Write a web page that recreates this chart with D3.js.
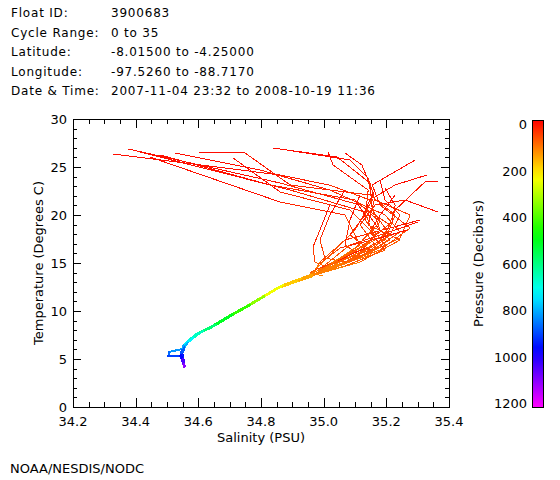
<!DOCTYPE html>
<html><head><meta charset="utf-8">
<script src="https://cdn.jsdelivr.net/npm/d3@7"></script>
<style>
body{margin:0;background:#fff}
svg{display:block}
text{font-family:"DejaVu Sans",sans-serif;fill:#000}
</style>
</head><body>
<script>
// ---------- data ----------
const headerLabels = ["Float ID:", "Cycle Range:", "Latitude:", "Longitude:", "Date & Time:"];
const headerValues = ["3900683", "0 to 35", "-8.01500 to -4.25000", "-97.5260 to -88.7170", "2007-11-04 23:32 to 2008-10-19 11:36"];
const salinityTicks = [34.2, 34.4, 34.6, 34.8, 35.0, 35.2, 35.4];
const salinityTickLabels = ["34.2", "34.4", "34.6", "34.8", "35.0", "35.2", "35.4"];
const temperatureTicks = [0, 5, 10, 15, 20, 25, 30];
const pressureTicks = [0, 200, 400, 600, 800, 1000, 1200];
const footer = "NOAA/NESDIS/NODC";

// upper parts of profiles: [salinity, temperature, pressure]
const upperProfiles = [
  [[34.328,26.35,5],[34.861,24.17,20],[35.02,23.1,35],[35.148,21.56,50],[35.18,18.44,70],[35.116,16.35,90],[35.02,14.79,110],[34.966,13.75,140]],
  [[34.376,26.88,5],[34.861,23.33,25],[35.116,21.04,45],[35.212,18.96,65],[35.148,15.83,90],[34.988,14.06,130]],
  [[34.602,26.56,5],[34.749,26.46,15],[34.893,23.13,30],[35.148,22.08,45],[35.228,20.0,60],[35.196,17.4,80],[35.052,15.1,105],[34.972,13.85,140]],
  [[34.711,25.94,5],[34.861,22.4,25],[35.084,20.52,45],[35.164,17.92,70],[35.1,15.52,95],[34.982,14.06,130]],
  [[34.446,26.04,5],[34.861,21.35,25],[35.068,20.0,45],[35.116,16.88,75],[35.02,14.69,110],[34.969,13.85,140]],
  [[34.526,26.46,5],[34.797,24.69,20],[35.02,22.6,35],[35.196,20.0,55],[35.244,18.23,70],[35.148,16.15,90],[35.004,14.27,125]],
  [[34.838,26.98,5],[35.043,26.04,15],[35.148,23.33,30],[35.155,20.52,45],[35.212,17.92,65],[35.116,15.52,90],[34.995,14.06,130]],
  [[34.861,26.88,5],[35.084,25.73,15],[35.142,23.85,30],[35.164,21.56,45],[35.276,20.0,60],[35.244,17.6,80],[35.084,15.1,105],[34.975,13.96,140]],
  [[35.014,26.56,5],[35.03,25.21,15],[35.142,22.6,30],[35.132,19.48,50],[35.196,16.88,75],[35.052,14.79,105],[34.972,13.85,140]],
  [[35.068,26.46,5],[35.122,25.21,15],[35.142,23.65,25],[35.155,21.56,40],[35.1,18.44,65],[35.02,15.83,95],[34.963,13.96,140]],
  [[35.292,25.73,5],[35.155,23.13,20],[35.18,21.04,35],[35.276,18.65,55],[35.18,16.35,80],[35.02,14.48,115],[34.966,13.75,145]],
  [[35.33,24.17,5],[35.228,23.13,15],[35.164,21.88,30],[35.142,18.96,50],[35.244,17.4,70],[35.116,15.1,95],[34.982,13.85,135]],
  [[35.365,23.44,5],[35.323,23.44,10],[35.228,20.52,35],[35.196,17.92,60],[35.052,15.52,95],[34.972,14.06,135]],
  [[35.365,20.31,5],[35.26,21.56,20],[35.164,21.04,35],[35.116,18.96,50],[35.164,16.88,70],[35.068,15.1,95],[34.979,13.96,135]],
  [[35.308,19.48,5],[35.212,18.65,25],[35.068,17.4,50],[34.988,15.1,90],[34.969,13.96,130]],
  [[35.266,18.44,5],[35.18,17.6,25],[35.052,16.56,50],[34.982,14.79,90],[34.966,13.85,130]],
  [[35.301,19.27,5],[35.228,18.44,25],[35.084,16.88,55],[35.004,14.79,95],[34.972,13.75,135]],
  [[35.02,21.04,5],[34.988,18.44,25],[34.966,16.67,45],[34.972,15.1,70],[35.02,14.48,100],[34.966,13.65,140]],
  [[35.068,22.6,5],[35.02,20.0,25],[34.988,17.4,45],[35.004,15.52,70],[35.068,15.1,95],[34.975,13.75,140]],
  [[35.116,22.08,5],[35.084,19.48,25],[35.068,16.88,50],[35.116,15.83,75],[35.036,14.48,105],[34.969,13.75,140]],
  [[35.18,23.65,5],[35.196,21.56,20],[35.244,20.0,35],[35.212,17.92,55],[35.116,16.15,80],[34.988,14.27,125]],
  [[35.196,22.81,5],[35.228,21.04,20],[35.218,19.27,40],[35.148,17.4,60],[35.052,15.1,95],[34.972,13.85,135]],
  [[35.164,22.6,5],[35.132,20.52,20],[35.174,18.65,40],[35.212,17.4,60],[35.084,15.1,95],[34.979,13.85,135]],
  [[35.1,21.56,5],[35.132,20.0,20],[35.084,17.92,40],[35.148,16.35,65],[35.02,14.79,100],[34.969,13.75,140]],
  [[35.228,22.08,5],[35.18,20.0,20],[35.148,18.23,40],[35.196,16.35,65],[35.068,14.69,100],[34.975,13.85,135]],
  [[35.132,16.56,5],[35.036,15.1,30],[34.972,14.27,70],[34.956,13.96,100],[34.998,13.65,140]],
  [[34.414,26.56,5],[34.893,22.6,25],[35.132,20.31,45],[35.164,17.4,70],[34.988,14.27,120]],
  [[34.478,26.25,5],[34.829,23.13,25],[35.1,21.56,40],[35.18,19.27,55],[35.1,16.56,80],[34.979,13.96,135]]
];

// deep parts of profiles: [salinity, temperature, pressure]
const deepProfiles = [
  [[34.966,13.7,140],[34.92,13.2,170],[34.861,12.5,210],[34.80,11.35,300],[34.755,10.45,400],[34.70,9.45,470],[34.647,8.4,560],[34.605,7.75,620],[34.575,7.0,700],[34.558,6.5,760],[34.55,6.0,830],[34.546,5.5,920],[34.55,5.0,990],[34.553,4.6,1050],[34.556,4.2,1100]],
  [[34.97,13.85,140],[34.925,13.3,170],[34.866,12.6,210],[34.805,11.45,300],[34.76,10.55,400],[34.705,9.55,470],[34.652,8.5,560],[34.61,7.85,620],[34.58,7.1,700],[34.562,6.6,760],[34.553,6.1,830],[34.549,5.6,920],[34.552,5.1,990],[34.555,4.7,1050]],
  [[34.963,13.6,140],[34.917,13.1,170],[34.857,12.4,210],[34.796,11.25,300],[34.751,10.35,400],[34.696,9.35,470],[34.643,8.3,560],[34.601,7.65,620],[34.571,6.9,700],[34.552,6.3,770],[34.548,6.04,800],[34.507,5.73,840],[34.504,5.31,880],[34.542,5.31,920],[34.548,4.9,980],[34.552,4.4,1070],[34.555,4.15,1130]],
  [[34.968,13.75,140],[34.93,13.3,165],[34.87,12.65,205],[34.81,11.5,295],[34.765,10.6,395],[34.71,9.6,465],[34.656,8.55,555],[34.614,7.9,615],[34.584,7.2,690],[34.565,6.7,750],[34.555,6.2,820],[34.548,5.7,900],[34.55,5.2,960]],
  [[34.962,13.65,140],[34.915,13.15,172],[34.855,12.45,212],[34.794,11.3,305],[34.748,10.4,405],[34.693,9.4,475],[34.64,8.35,565],[34.598,7.7,625],[34.568,6.95,705],[34.553,6.45,765],[34.547,5.95,840],[34.545,5.45,925],[34.549,4.95,995],[34.554,4.45,1070],[34.557,4.25,1105]],
  [[34.972,13.9,140],[34.928,13.4,168],[34.87,12.7,208],[34.81,11.55,298],[34.764,10.65,398],[34.709,9.65,468],[34.656,8.6,558],[34.615,7.95,618],[34.585,7.2,698],[34.566,6.7,758],[34.556,6.2,828],[34.551,5.7,915]]
];

// ---------- layout ----------
const W = 560, H = 480;
const plot = {left: 73, right: 449, top: 119, bottom: 407};
const bar = {left: 532, right: 543, top: 120, bottom: 407};

const svg = d3.select("body").append("svg").attr("width", W).attr("height", H);

const x = d3.scaleLinear().domain([34.2, 35.4]).range([plot.left, plot.right]);
const y = d3.scaleLinear().domain([0, 30]).range([plot.bottom, plot.top]);
const pColor = p => d3.hsl(Math.max(0, Math.min(1200, p)) / 1200 * 300, 1, 0.5).toString();

// header
const hdr = svg.append("g").style("font-size", "12px").style("letter-spacing", "0.8px");
headerLabels.forEach((t, i) => {
  hdr.append("text").attr("x", 11).attr("y", 17 + i * 19.5).text(t);
  hdr.append("text").attr("x", 111).attr("y", 17 + i * 19.5).text(headerValues[i]);
});

// data lines
const gData = svg.append("g").attr("shape-rendering", "crispEdges").attr("fill", "none");
function drawProfile(prof, width) {
  for (let i = 0; i < prof.length - 1; i++) {
    const a = prof[i], b = prof[i + 1];
    gData.append("line")
      .attr("x1", x(a[0])).attr("y1", y(a[1]))
      .attr("x2", x(b[0])).attr("y2", y(b[1]))
      .attr("stroke-width", width)
      .attr("stroke-linecap", "round")
      .attr("stroke", pColor((a[2] + b[2]) / 2));
  }
}
deepProfiles.forEach(p => drawProfile(p, 2));
upperProfiles.forEach(p => drawProfile(p, 1));

// frame + axes
const gAx = svg.append("g").attr("shape-rendering", "crispEdges").style("font-size", "13px");
gAx.append("rect").attr("x", plot.left).attr("y", plot.top)
  .attr("width", plot.right - plot.left).attr("height", plot.bottom - plot.top)
  .attr("fill", "none").attr("stroke", "#000");

const xMinor = d3.range(34.2, 35.4001, 0.05);
const yMinor = d3.range(0, 30.001, 1);
function axisLines(g, orient, scale, ticks, len) {
  ticks.forEach(v => {
    const p = Math.round(scale(v)) + 0.5;
    if (orient === "bottom") g.append("line").attr("x1", p).attr("x2", p).attr("y1", plot.bottom).attr("y2", plot.bottom - len);
    if (orient === "top") g.append("line").attr("x1", p).attr("x2", p).attr("y1", plot.top).attr("y2", plot.top + len);
    if (orient === "left") g.append("line").attr("y1", p).attr("y2", p).attr("x1", plot.left).attr("x2", plot.left + len);
    if (orient === "right") g.append("line").attr("y1", p).attr("y2", p).attr("x1", plot.right).attr("x2", plot.right - len);
  });
}
const gTicks = gAx.append("g").attr("stroke", "#000");
axisLines(gTicks, "bottom", x, xMinor, 5);
axisLines(gTicks, "top", x, xMinor, 5);
axisLines(gTicks, "bottom", x, salinityTicks, 9);
axisLines(gTicks, "top", x, salinityTicks, 9);
axisLines(gTicks, "left", y, yMinor, 4);
axisLines(gTicks, "right", y, yMinor, 4);
axisLines(gTicks, "left", y, temperatureTicks, 8);
axisLines(gTicks, "right", y, temperatureTicks, 8);

salinityTicks.forEach((v, i) => {
  gAx.append("text").attr("x", x(v)).attr("y", 426).attr("text-anchor", "middle").text(salinityTickLabels[i]);
});
temperatureTicks.forEach(v => {
  gAx.append("text").attr("x", 67).attr("y", y(v) + 5).attr("text-anchor", "end").text(v);
});
gAx.append("text").attr("x", (plot.left + plot.right) / 2).attr("y", 442).attr("text-anchor", "middle").text("Salinity (PSU)");
gAx.append("text").attr("transform", `translate(43,${(plot.top + plot.bottom) / 2}) rotate(-90)`)
  .attr("text-anchor", "middle").text("Temperature (Degrees C)");

// colour bar
const defs = svg.append("defs");
const grad = defs.append("linearGradient").attr("id", "pgrad").attr("x1", 0).attr("y1", 0).attr("x2", 0).attr("y2", 1);
d3.range(0, 1201, 50).forEach(p => {
  grad.append("stop").attr("offset", p / 1200).attr("stop-color", pColor(p));
});
svg.append("rect").attr("x", bar.left).attr("y", bar.top)
  .attr("width", bar.right - bar.left).attr("height", bar.bottom - bar.top)
  .attr("fill", "url(#pgrad)").attr("stroke", "#000").attr("shape-rendering", "crispEdges");
const pScale = d3.scaleLinear().domain([0, 1200]).range([124, 403]);
pressureTicks.forEach(p => {
  gAx.append("text").attr("x", 527).attr("y", pScale(p) + 5).attr("text-anchor", "end").text(p);
});
gAx.append("text").attr("transform", `translate(483,${(bar.top + bar.bottom) / 2}) rotate(-90)`)
  .attr("text-anchor", "middle").text("Pressure (Decibars)");

// footer
svg.append("text").attr("x", 10).attr("y", 473).style("font-size", "13px").text(footer);
</script>
</body></html>
